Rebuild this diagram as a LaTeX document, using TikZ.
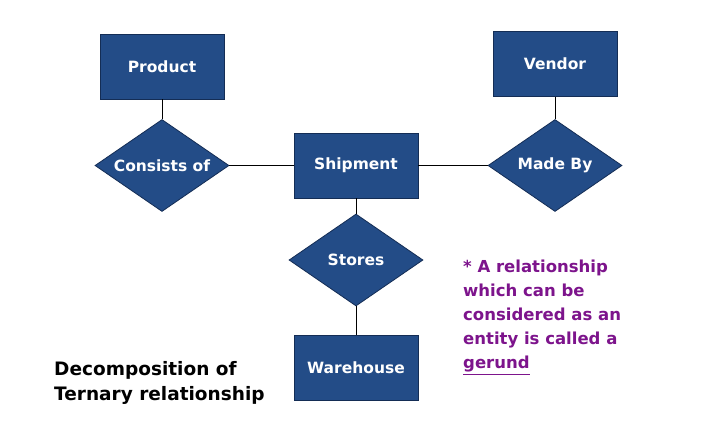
\documentclass[tikz,border=0pt]{standalone}
\usepackage{fontspec}
\setmainfont{DejaVu Sans}
\usetikzlibrary{shapes.geometric}
\definecolor{erblue}{RGB}{35,76,135}
\definecolor{erborder}{RGB}{20,45,85}
\definecolor{notepurple}{RGB}{125,20,140}
\tikzset{
  entity/.style={draw=erborder, line width=0.8pt, fill=erblue, text=white, font=\bfseries\fontsize{15.5}{18}\selectfont, minimum width=124pt, minimum height=65pt, inner sep=0pt},
  relation/.style={diamond, draw=erborder, line width=0.8pt, fill=erblue, text=white, font=\bfseries\fontsize{15.5}{18}\selectfont, minimum width=134pt, minimum height=92pt, inner sep=0pt, aspect=1.45},
  link/.style={draw=black, line width=1pt}
}
\begin{document}
\begin{tikzpicture}[x=1pt,y=-1pt]
\useasboundingbox (0,0) rectangle (720,432);
\fill[white] (0,0) rectangle (720,432);
\node[entity] (product) at (162,66.5) {Product};
\node[entity] (shipment) at (356,165.5) {Shipment};
\node[entity] (warehouse) at (356,368) {Warehouse};
\node[entity] (vendor) at (555,64) {Vendor};
\node[relation] (consists) at (162,165.5) {Consists of};
\node[relation] (stores) at (356,260) {Stores};
\node[relation] (madeby) at (555,165.5) {Made By};
\draw[link] (product) -- (consists);
\draw[link] (consists) -- (shipment);
\draw[link] (shipment) -- (madeby);
\draw[link] (vendor) -- (madeby);
\draw[link] (shipment) -- (stores);
\draw[link] (stores) -- (warehouse);
\node[anchor=north west, align=left, text=notepurple, font=\bfseries\fontsize{16.5}{24}\selectfont, inner sep=0pt] (note) at (463,260) {* A relationship\\which can be\\considered as an\\entity is called a\\\underline{gerund}};
\node[anchor=north west, align=left, text=black, font=\bfseries\fontsize{18.5}{25}\selectfont, inner sep=0pt] (caption) at (54,361) {Decomposition of\\Ternary relationship};
\end{tikzpicture}
\end{document}
